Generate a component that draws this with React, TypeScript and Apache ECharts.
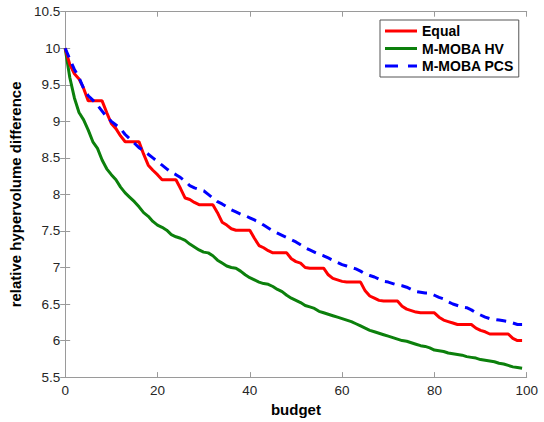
import React, { useEffect, useRef } from "react";
import * as echarts from "echarts";

const budget: number[] = Array.from({ length: 100 }, (_, i) => i);

const equal: number[] = [
  10.0, 9.78, 9.65, 9.58, 9.45, 9.28, 9.28, 9.28, 9.28, 9.12,
  8.97, 8.9, 8.8, 8.72, 8.72, 8.72, 8.72, 8.55, 8.4, 8.33,
  8.27, 8.2, 8.2, 8.2, 8.2, 8.08, 7.95, 7.93, 7.89, 7.86,
  7.86, 7.86, 7.86, 7.75, 7.62, 7.58, 7.53, 7.51, 7.51, 7.51,
  7.51, 7.4, 7.3, 7.27, 7.23, 7.2, 7.2, 7.2, 7.2, 7.12,
  7.08, 7.06, 7.0, 6.99, 6.99, 6.99, 6.99, 6.9, 6.85, 6.83,
  6.81, 6.8, 6.8, 6.8, 6.8, 6.68, 6.61, 6.58, 6.55, 6.54,
  6.54, 6.54, 6.54, 6.47, 6.43, 6.41, 6.39, 6.38, 6.38, 6.38,
  6.38, 6.32, 6.28, 6.26, 6.24, 6.22, 6.22, 6.22, 6.22, 6.17,
  6.14, 6.12, 6.09, 6.09, 6.09, 6.09, 6.09, 6.03, 6.0, 6.0,
];

const mmobaHV: number[] = [
  10.0, 9.6, 9.32, 9.12, 9.02, 8.88, 8.72, 8.63, 8.47, 8.35,
  8.27, 8.2, 8.1, 8.02, 7.96, 7.9, 7.83, 7.75, 7.7, 7.63,
  7.58, 7.55, 7.51, 7.45, 7.42, 7.4, 7.37, 7.32, 7.28, 7.24,
  7.21, 7.2, 7.16, 7.1, 7.06, 7.02, 7.0, 6.99, 6.95, 6.9,
  6.86, 6.83, 6.8, 6.78, 6.77, 6.74, 6.7, 6.67, 6.62, 6.58,
  6.55, 6.52, 6.48, 6.46, 6.44, 6.4, 6.38, 6.36, 6.34, 6.32,
  6.3, 6.28, 6.26, 6.23, 6.2, 6.17, 6.14, 6.12, 6.1, 6.08,
  6.06, 6.04, 6.02, 6.0, 5.99, 5.97, 5.95, 5.93, 5.92, 5.9,
  5.87, 5.86, 5.85, 5.83, 5.82, 5.81, 5.8, 5.78, 5.77, 5.76,
  5.74, 5.73, 5.72, 5.71, 5.69, 5.68, 5.66, 5.64, 5.63, 5.62,
];

const mmobaPCS: number[] = [
  10.0, 9.85, 9.71, 9.6, 9.45, 9.35, 9.29, 9.22, 9.14, 9.06,
  9.0, 8.95, 8.9, 8.82, 8.76, 8.7, 8.64, 8.6, 8.55, 8.5,
  8.45, 8.4, 8.35, 8.3, 8.27, 8.23, 8.18, 8.12, 8.09, 8.07,
  8.05, 8.0, 7.95, 7.9, 7.87, 7.83, 7.79, 7.76, 7.73, 7.71,
  7.68, 7.65, 7.62, 7.58, 7.54, 7.5, 7.47, 7.44, 7.41, 7.38,
  7.35, 7.31, 7.27, 7.24, 7.21, 7.18, 7.16, 7.13, 7.1, 7.07,
  7.04, 7.02, 7.0, 6.98, 6.95, 6.91, 6.89, 6.87, 6.84, 6.81,
  6.8, 6.78, 6.76, 6.75, 6.73, 6.7, 6.67, 6.66, 6.65, 6.65,
  6.62, 6.59, 6.57, 6.53, 6.5, 6.48, 6.46, 6.45, 6.42, 6.38,
  6.35, 6.32, 6.3, 6.29, 6.28, 6.27, 6.26, 6.24, 6.22, 6.22,
];

const seriesNames = ["Equal", "M-MOBA HV", "M-MOBA PCS"];

const FONT = "'Liberation Sans', Arial, Helvetica, sans-serif";
const AXIS_COLOR = "#9a9a9a";
const TEXT_COLOR = "#262626";

const SOLID_ICON = "path://M0,0H32V3H0Z";
const DASH_ICON = "path://M0,0H13V3H0Z M23,0H32V3H23Z";

export default function App() {
  const ref = useRef<HTMLDivElement>(null);

  useEffect(() => {
    if (!ref.current) return;
    const chart = echarts.init(ref.current, undefined, { renderer: "svg" });

    const pair = (vals: number[]) => budget.map((b, i) => [b, vals[i]]);

    const axisCommon = {
      axisLine: { show: true, lineStyle: { color: AXIS_COLOR, width: 1 } },
      axisTick: { show: true, inside: true, length: 5, lineStyle: { color: AXIS_COLOR } },
      splitLine: { show: false },
    };

    chart.setOption({
      animation: false,
      backgroundColor: "#ffffff",
      grid: { left: 58.3, right: 17.3, top: 11.7, bottom: 42, containLabel: false },
      legend: {
        data: [
          { name: seriesNames[0], icon: SOLID_ICON },
          { name: seriesNames[1], icon: SOLID_ICON },
          { name: seriesNames[2], icon: DASH_ICON },
        ],
        orient: "vertical",
        left: 380,
        top: 20,
        itemWidth: 32,
        itemHeight: 3,
        itemGap: 3.5,
        padding: [4, 5, 4, 5],
        borderColor: "#555555",
        borderWidth: 1,
        backgroundColor: "#ffffff",
        itemStyle: { borderWidth: 0 },
        lineStyle: { width: 0 },
        textStyle: {
          fontFamily: FONT,
          fontWeight: "bold",
          fontSize: 14,
          color: "#000000",
          lineHeight: 14,
        },
      },
      xAxis: [
        {
          type: "value",
          min: 0,
          max: 100,
          interval: 20,
          name: "budget",
          nameLocation: "middle",
          nameGap: 22,
          nameTextStyle: { fontFamily: FONT, fontWeight: "bold", fontSize: 15, color: "#000000" },
          axisLabel: { fontFamily: FONT, fontSize: 13.5, color: TEXT_COLOR, margin: 6 },
          ...axisCommon,
        },
        {
          type: "value",
          position: "top",
          min: 0,
          max: 100,
          interval: 20,
          axisLabel: { show: false },
          ...axisCommon,
        },
      ],
      yAxis: [
        {
          type: "value",
          min: 5.5,
          max: 10.5,
          interval: 0.5,
          name: "relative hypervolume difference",
          nameLocation: "middle",
          nameRotate: 90,
          nameGap: 35,
          nameTextStyle: { fontFamily: FONT, fontWeight: "bold", fontSize: 15, color: "#000000" },
          axisLabel: { fontFamily: FONT, fontSize: 13.5, color: TEXT_COLOR, margin: 5 },
          ...axisCommon,
        },
        {
          type: "value",
          position: "right",
          min: 5.5,
          max: 10.5,
          interval: 0.5,
          axisLabel: { show: false },
          ...axisCommon,
        },
      ],
      series: [
        {
          name: seriesNames[0],
          type: "line",
          data: pair(equal),
          symbol: "none",
          lineStyle: { color: "#ff0000", width: 3 },
          itemStyle: { color: "#ff0000" },
          z: 3,
        },
        {
          name: seriesNames[1],
          type: "line",
          data: pair(mmobaHV),
          symbol: "none",
          lineStyle: { color: "#0c800c", width: 3 },
          itemStyle: { color: "#0c800c" },
          z: 2,
        },
        {
          name: seriesNames[2],
          type: "line",
          data: pair(mmobaPCS),
          symbol: "none",
          lineStyle: { color: "#0000ff", width: 3, type: [10, 7] },
          itemStyle: { color: "#0000ff" },
          z: 4,
        },
      ],
    });

    return () => chart.dispose();
  }, []);

  return (
    <div
      ref={ref}
      style={{ position: "fixed", left: 0, top: 0, width: 544, height: 422, background: "#fff" }}
    />
  );
}
